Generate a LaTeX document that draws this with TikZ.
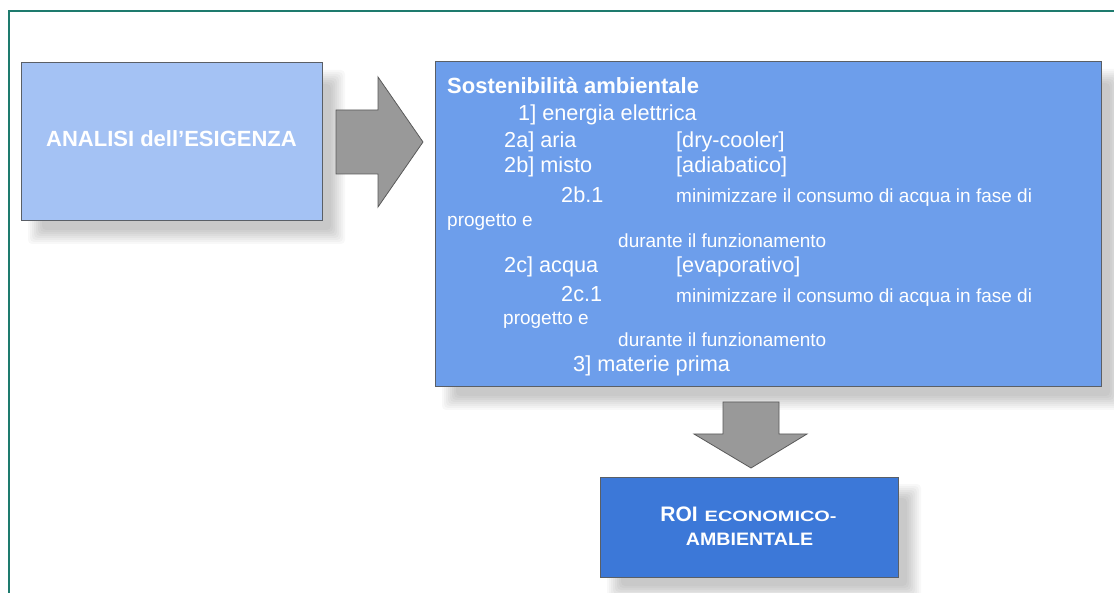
\documentclass[tikz,border=0pt]{standalone}
\usepackage{fontspec}
\setmainfont{Liberation Sans}
\definecolor{frameteal}{HTML}{1E7B6E}
\definecolor{lightblue}{HTML}{A4C2F4}
\definecolor{midblue}{HTML}{6D9EEB}
\definecolor{darkblue}{HTML}{3C78D8}
\definecolor{boxborder}{HTML}{5A5F66}
\definecolor{arrowfill}{HTML}{999999}
\definecolor{arrowborder}{HTML}{5A5A5A}
\tikzset{
  boxbase/.style={draw=boxborder, line width=1pt, inner sep=0pt, rectangle},
  shadowlayer/.style={fill=black, opacity=0.026, rounded corners=4pt},
  blockarrow/.style={draw=arrowborder, fill=arrowfill, line width=0.8pt, line join=miter},
  bigtxt/.style={anchor=base west, inner sep=0pt, text=white, font=\fontsize{21.7}{26}\selectfont},
  smalltxt/.style={anchor=base west, inner sep=0pt, text=white, font=\fontsize{19}{23}\selectfont},
  titletxt/.style={anchor=base west, inner sep=0pt, text=white, font=\fontsize{22}{26}\selectfont\bfseries},
}
\newcommand\mydropshadow[4]{%
  \foreach \e in {-6,-4,...,8}{%
    \path[shadowlayer] ({#1+15-\e},{#2+15-\e}) rectangle ({#3+15+\e},{#4+15+\e});}}
\begin{document}
\begin{tikzpicture}[x=1pt,y=-1pt]
\useasboundingbox (0,0) rectangle (1114,593);
\fill[white] (0,0) rectangle (1114,593);
% frame
\draw[frameteal, line width=2pt] (1120,11.5) -- (8.5,11.5) -- (8.5,600);
% shadows
\mydropshadow{21}{63}{322}{221}
\mydropshadow{435}{62}{1101}{387}
\mydropshadow{600}{477}{898}{577}
% boxes
\node[boxbase, fill=lightblue, minimum width=301pt, minimum height=158pt] (analisi) at (171.5,142) {};
\node[boxbase, fill=midblue, minimum width=666pt, minimum height=325pt] (sost) at (768,224.5) {};
\node[boxbase, fill=darkblue, minimum width=298pt, minimum height=100pt] (roi) at (749,527) {};
% block arrows
\draw[blockarrow] (336,110) -- (378,110) -- (378,77) -- (423,142) -- (378,207) -- (378,174) -- (336,174) -- cycle;
\draw[blockarrow] (723,402) -- (779,402) -- (779,434) -- (807,434) -- (751,468) -- (694,434) -- (723,434) -- cycle;
% left box text
\node[anchor=base, inner sep=0pt, text=white, font=\fontsize{22}{26}\selectfont\bfseries] (tanalisi) at (171.5,147) {ANALISI dell’ESIGENZA};
% big box text
\node[titletxt] (t0) at (447,94) {Sostenibilità ambientale};
\node[bigtxt] (t1) at (518,121) {1] energia elettrica};
\node[bigtxt] (t2a) at (504,148) {2a] aria};
\node[bigtxt] (t2ab) at (676,148) {[dry-cooler]};
\node[bigtxt] (t2b) at (504,173) {2b] misto};
\node[bigtxt] (t2bb) at (676,173) {[adiabatico]};
\node[bigtxt] (t2b1) at (561,202.5) {2b.1};
\node[smalltxt] (t2b1t) at (676,203) {minimizzare il consumo di acqua in fase di};
\node[smalltxt] (t2b1p) at (447,227) {progetto e};
\node[smalltxt] (t2b1d) at (618,248) {durante il funzionamento};
\node[bigtxt] (t2c) at (504,273) {2c] acqua};
\node[bigtxt] (t2cb) at (676,273) {[evaporativo]};
\node[bigtxt] (t2c1) at (561,302) {2c.1};
\node[smalltxt] (t2c1t) at (676,302.5) {minimizzare il consumo di acqua in fase di};
\node[smalltxt] (t2c1p) at (503,325) {progetto e};
\node[smalltxt] (t2c1d) at (618,347) {durante il funzionamento};
\node[bigtxt] (t3) at (573,372) {3] materie prima};
% ROI text
\node[anchor=base, inner sep=0pt, text=white] (troi1) at (748.5,521)
  {\fontsize{21}{24}\selectfont\bfseries ROI\hspace{7pt}\scalebox{1.33}[1]{\fontsize{15}{17}\selectfont\bfseries ECONOMICO-}};
\node[anchor=base, inner sep=0pt, text=white] (troi2) at (749.5,545.5)
  {\scalebox{1.09}[1]{\fontsize{18}{20}\selectfont\bfseries AMBIENTALE}};
\end{tikzpicture}
\end{document}
